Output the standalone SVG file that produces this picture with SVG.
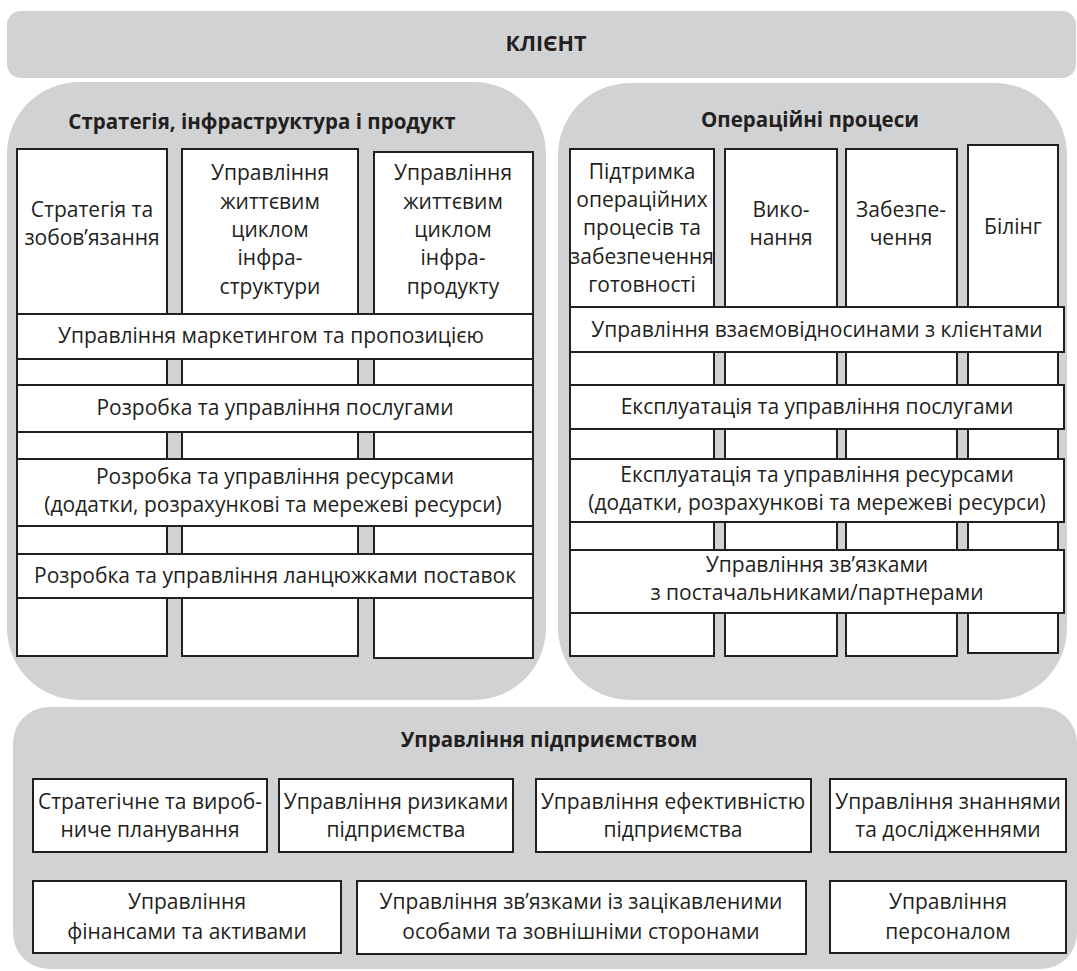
<svg xmlns="http://www.w3.org/2000/svg" width="1077" height="971" viewBox="0 0 1077 971">
<style>
.panel{fill:#d1d2d4;}
.box{fill:#ffffff;stroke:#231f20;stroke-width:2;}
.t{font-family:"Open Sans","Noto Sans","Liberation Sans",sans-serif;font-size:21px;fill:#231f20;text-anchor:middle;}
.h{font-family:"Open Sans","Noto Sans","Liberation Sans",sans-serif;font-size:20.5px;font-weight:bold;fill:#231f20;text-anchor:middle;}
</style>
<rect width="1077" height="971" fill="#ffffff"/>
<g id="client">
<rect class="panel" x="7" y="11" width="1069" height="67" rx="14"/>
<text class="h" x="546" y="51" style="font-size:21.5px">КЛІЄНТ</text>
</g>
<g id="strategy-panel">
<rect class="panel" x="7" y="82" width="539" height="618" rx="72"/>
<text class="h" x="262" y="129">Стратегія, інфраструктура і продукт</text>
</g>
<g id="col-strategy">
<rect class="box" x="17" y="149" width="150" height="507"/>
<text class="t" x="92" y="217">Стратегія та</text>
<text class="t" x="92" y="245">зобов’язання</text>
</g>
<g id="col-infra">
<rect class="box" x="182" y="149" width="176" height="507"/>
<text class="t" x="270" y="180">Управління</text>
<text class="t" x="270" y="209">життєвим</text>
<text class="t" x="270" y="237">циклом</text>
<text class="t" x="270" y="265">інфра-</text>
<text class="t" x="270" y="294">структури</text>
</g>
<g id="col-product">
<rect class="box" x="374" y="152" width="159" height="506"/>
<text class="t" x="453" y="180">Управління</text>
<text class="t" x="453" y="209">життєвим</text>
<text class="t" x="453" y="237">циклом</text>
<text class="t" x="453" y="265">інфра-</text>
<text class="t" x="453" y="294">продукту</text>
</g>
<g id="band-marketing">
<rect class="box" x="17" y="314" width="516" height="45"/>
<text class="t" x="271" y="343">Управління маркетингом та пропозицією</text>
</g>
<g id="band-services-dev">
<rect class="box" x="17" y="385" width="516" height="47"/>
<text class="t" x="275" y="415">Розробка та управління послугами</text>
</g>
<g id="band-resources-dev">
<rect class="box" x="17" y="459" width="516" height="67"/>
<text class="t" x="275" y="484">Розробка та управління ресурсами</text>
<text class="t" x="273" y="512">(додатки, розрахункові та мережеві ресурси)</text>
</g>
<g id="band-supply-chain">
<rect class="box" x="17" y="554" width="516" height="44"/>
<text class="t" x="275" y="583">Розробка та управління ланцюжками поставок</text>
</g>
<g id="operations-panel">
<rect class="panel" x="558" y="83" width="509" height="617" rx="72"/>
<text class="h" x="810" y="127">Операційні процеси</text>
</g>
<g id="col-ops-support">
<rect class="box" x="570" y="149" width="144" height="507"/>
<text class="t" x="642" y="179">Підтримка</text>
<text class="t" x="642" y="207">операційних</text>
<text class="t" x="642" y="235">процесів та</text>
<text class="t" x="642" y="264">забезпечення</text>
<text class="t" x="642" y="292">готовності</text>
</g>
<g id="col-fulfillment">
<rect class="box" x="725" y="149" width="112" height="507"/>
<text class="t" x="781" y="217">Вико-</text>
<text class="t" x="781" y="245">нання</text>
</g>
<g id="col-assurance">
<rect class="box" x="846" y="149" width="111" height="507"/>
<text class="t" x="901" y="217">Забезпе-</text>
<text class="t" x="901" y="245">чення</text>
</g>
<g id="col-billing">
<rect class="box" x="968" y="145" width="90" height="508"/>
<text class="t" x="1013" y="234">Білінг</text>
</g>
<g id="band-crm">
<rect class="box" x="570" y="307" width="494" height="45"/>
<text class="t" x="817" y="337">Управління взаємовідносинами з клієнтами</text>
</g>
<g id="band-services-ops">
<rect class="box" x="570" y="385" width="494" height="44"/>
<text class="t" x="817" y="414">Експлуатація та управління послугами</text>
</g>
<g id="band-resources-ops">
<rect class="box" x="570" y="459" width="494" height="63"/>
<text class="t" x="817" y="482">Експлуатація та управління ресурсами</text>
<text class="t" x="817" y="510">(додатки, розрахункові та мережеві ресурси)</text>
</g>
<g id="band-suppliers">
<rect class="box" x="570" y="550" width="494" height="63"/>
<text class="t" x="817" y="572">Управління зв’язками</text>
<text class="t" x="817" y="600">з постачальниками/партнерами</text>
</g>
<g id="enterprise-panel">
<rect class="panel" x="13" y="707" width="1064" height="262" rx="36"/>
<text class="h" x="549" y="747">Управління підприємством</text>
</g>
<g id="ent-planning">
<rect class="box" x="33" y="779" width="234" height="73"/>
<text class="t" x="150" y="809">Стратегічне та вироб-</text>
<text class="t" x="150" y="837">ниче планування</text>
</g>
<g id="ent-risk">
<rect class="box" x="279" y="779" width="234" height="73"/>
<text class="t" x="396" y="809">Управління ризиками</text>
<text class="t" x="396" y="837">підприємства</text>
</g>
<g id="ent-performance">
<rect class="box" x="536" y="779" width="275" height="73"/>
<text class="t" x="673" y="809">Управління ефективністю</text>
<text class="t" x="673" y="837">підприємства</text>
</g>
<g id="ent-knowledge">
<rect class="box" x="830" y="779" width="236" height="73"/>
<text class="t" x="948" y="809">Управління знаннями</text>
<text class="t" x="948" y="837">та дослідженнями</text>
</g>
<g id="ent-finance">
<rect class="box" x="33" y="881" width="308" height="72"/>
<text class="t" x="187" y="909">Управління</text>
<text class="t" x="187" y="939">фінансами та активами</text>
</g>
<g id="ent-stakeholders">
<rect class="box" x="357" y="881" width="449" height="73"/>
<text class="t" x="581" y="909">Управління зв’язками із зацікавленими</text>
<text class="t" x="581" y="939">особами та зовнішніми сторонами</text>
</g>
<g id="ent-hr">
<rect class="box" x="830" y="881" width="236" height="72"/>
<text class="t" x="948" y="909">Управління</text>
<text class="t" x="948" y="939">персоналом</text>
</g>
<g id="connectors"></g>
</svg>
